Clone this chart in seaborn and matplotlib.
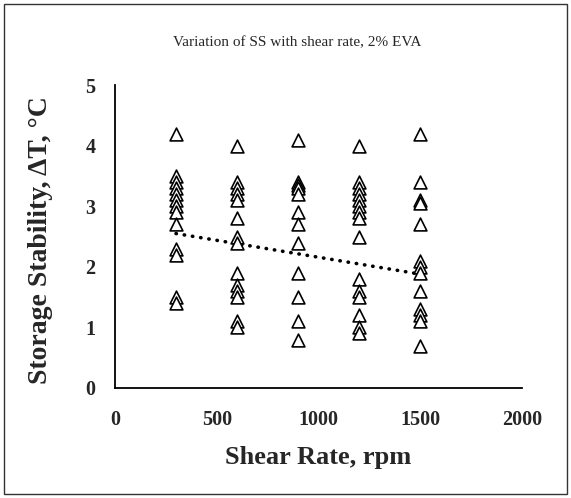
import numpy as np
import pandas as pd
import matplotlib
matplotlib.use("Agg")
import matplotlib.pyplot as plt
import seaborn as sns
from matplotlib.patches import Rectangle

# ---- data ----
rate_300 = [4.2, 3.5, 3.4, 3.3, 3.2, 3.1, 3.0, 2.9, 2.7, 2.3, 2.2, 1.5, 1.4]
rate_600 = [4.0, 3.4, 3.3, 3.2, 3.1, 2.8, 2.5, 2.4, 1.9, 1.7, 1.6, 1.5, 1.1, 1.0]
rate_900 = [4.1, 3.4, 3.35, 3.3, 3.2, 2.9, 2.7, 2.4, 1.9, 1.5, 1.1, 0.8]
rate_1200 = [4.0, 3.4, 3.3, 3.2, 3.1, 3.0, 2.9, 2.8, 2.5, 1.8, 1.6, 1.5, 1.2, 1.0, 0.9]
rate_1500 = [4.2, 3.4, 3.1, 3.05, 2.7, 2.1, 2.0, 1.9, 1.6, 1.3, 1.2, 1.1, 0.7]
shear_rates = [300, 600, 900, 1200, 1500]
trend_x = [300, 1500]
trend_y = [2.55, 1.88]
x_ticks = [0, 500, 1000, 1500, 2000]
y_ticks = [0, 1, 2, 3, 4, 5]
title = "Variation of SS with shear rate, 2% EVA"
x_label = "Shear Rate, rpm"
y_label = "Storage Stability, \u0394T, \u00b0C"

rows = []
for r, vals in zip(shear_rates, [rate_300, rate_600, rate_900, rate_1200, rate_1500]):
    for v in vals:
        rows.append({"rate": r, "ss": v})
df = pd.DataFrame(rows)

sns.set_style("white")
plt.rcParams["font.family"] = ["Liberation Serif", "DejaVu Serif"]

fig = plt.figure(figsize=(5.71, 4.98), dpi=100)
ax = fig.add_axes([0.2014, 0.2209, 0.7126, 0.6081])

sns.scatterplot(data=df, x="rate", y="ss", marker="^", s=85,
                facecolor="white", edgecolor="black", linewidth=1.2,
                ax=ax, zorder=3)
sns.lineplot(x=trend_x, y=trend_y, ax=ax, color="black", linewidth=2.6,
             linestyle=(0, (0.1, 2.2)), dash_capstyle="round", zorder=2)

ax.set_xlim(0, 2000)
ax.set_ylim(0, 5)
ax.set_xticks(x_ticks)
ax.set_yticks(y_ticks)
ax.set_xticklabels([str(t) for t in x_ticks], fontsize=14.5, fontweight="bold")
ax.set_yticklabels([str(t) for t in y_ticks], fontsize=14.5, fontweight="bold")
ax.tick_params(axis="both", length=0, pad=14)
ax.tick_params(axis="x", pad=16)
for s in ["top", "right"]:
    ax.spines[s].set_visible(False)
for s in ["left", "bottom"]:
    ax.spines[s].set_color("black")
    ax.spines[s].set_linewidth(1.3)
ax.set_xlabel(x_label, fontsize=19, fontweight="bold", va="center")
ax.set_ylabel(y_label, fontsize=20, fontweight="bold", va="center")
ax.xaxis.set_label_coords(0.5, -0.228)
ax.yaxis.set_label_coords(-0.184, 0.49)

fig.text(0.52, 0.915, title, ha="center", va="center", fontsize=11)
fig.patches.append(Rectangle((4 / 571, 4 / 498), 563 / 571, 490 / 498,
                             transform=fig.transFigure, fill=False,
                             edgecolor="#333333", linewidth=1.0))

fig.savefig("out.png", dpi=100)
